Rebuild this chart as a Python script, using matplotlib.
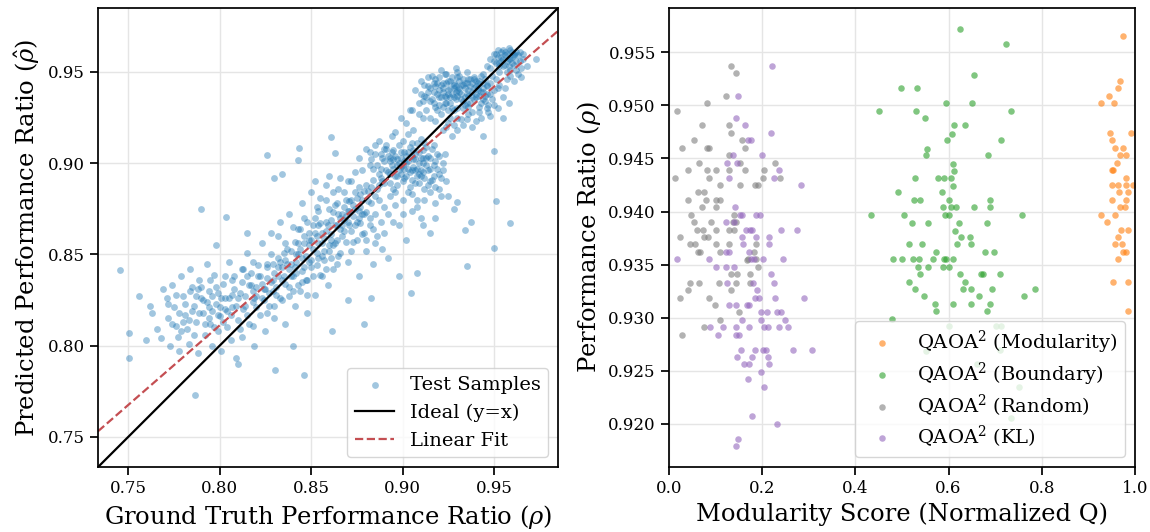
import matplotlib
matplotlib.use("Agg")
import matplotlib.pyplot as plt
import numpy as np

plt.rcParams['font.family'] = ['DejaVu Serif']
plt.rcParams['mathtext.fontset'] = 'dejavuserif'

# ---- left panel: predicted vs ground truth ----
lower_tail = [(0.762,0.822),(0.763,0.818),(0.766,0.809),(0.768,0.804),(0.769,0.831),(0.771,0.826),
              (0.772,0.815),(0.773,0.800),(0.774,0.833),(0.775,0.821),(0.776,0.811),(0.777,0.805),
              (0.778,0.797),(0.779,0.838),(0.780,0.827),(0.781,0.817),(0.782,0.809),(0.783,0.801),
              (0.784,0.842),(0.785,0.832),(0.786,0.822),(0.787,0.813),(0.788,0.796),(0.789,0.836),
              (0.790,0.826),(0.791,0.818),(0.792,0.806),(0.793,0.845),(0.794,0.830),(0.795,0.812),
              (0.796,0.800),(0.797,0.839),(0.798,0.823),(0.799,0.808),(0.800,0.816),(0.801,0.797),
              (0.802,0.834),(0.803,0.826),(0.804,0.810),(0.805,0.846),(0.806,0.803),(0.807,0.821),
              (0.808,0.838),(0.809,0.793),(0.810,0.814),(0.811,0.829)]
lower_dense = [(0.772,0.823),(0.774,0.812),(0.776,0.828),(0.778,0.818),(0.779,0.808),(0.781,0.823),
               (0.783,0.814),(0.784,0.830),(0.786,0.806),(0.787,0.827),(0.789,0.818),(0.790,0.832),
               (0.792,0.812),(0.793,0.824),(0.795,0.836),(0.796,0.819),(0.797,0.810),(0.799,0.829),
               (0.800,0.821),(0.802,0.813),(0.803,0.838),(0.805,0.826),(0.806,0.817),(0.808,0.831),
               (0.809,0.822),(0.811,0.809),(0.812,0.835),(0.814,0.827),(0.815,0.817),(0.817,0.840),
               (0.818,0.830),(0.820,0.821),(0.821,0.844),(0.823,0.834),(0.824,0.825),(0.826,0.837),
               (0.827,0.829),(0.829,0.845),(0.830,0.822),(0.832,0.838),(0.780,0.813),(0.785,0.819),
               (0.791,0.825),(0.794,0.815),(0.798,0.832),(0.801,0.826),(0.804,0.819),(0.807,0.836),
               (0.810,0.826),(0.813,0.820),(0.816,0.833),(0.819,0.826),(0.822,0.838),(0.825,0.831),
               (0.828,0.835),(0.788,0.831),(0.796,0.827),(0.812,0.842),(0.818,0.811),(0.826,0.818)]
mid_band = [(0.812,0.805),(0.813,0.842),(0.814,0.822),(0.815,0.851),(0.816,0.812),(0.817,0.833),
            (0.818,0.846),(0.819,0.800),(0.820,0.827),(0.821,0.838),(0.822,0.817),(0.823,0.856),
            (0.824,0.831),(0.825,0.808),(0.826,0.843),(0.827,0.822),(0.828,0.850),(0.829,0.836),
            (0.830,0.815),(0.831,0.828),(0.832,0.860),(0.833,0.846),(0.834,0.825),(0.835,0.838),
            (0.836,0.812),(0.837,0.853),(0.838,0.832),(0.839,0.845),(0.840,0.865),(0.841,0.822),
            (0.842,0.840),(0.843,0.856),(0.844,0.830),(0.845,0.848),(0.846,0.870),(0.847,0.836),
            (0.848,0.818),(0.849,0.858),(0.850,0.843),(0.851,0.866),(0.852,0.828),(0.853,0.851),
            (0.854,0.874),(0.855,0.839),(0.856,0.862),(0.857,0.847),(0.858,0.880),(0.859,0.833),
            (0.860,0.855)]
band_085 = [(0.830,0.840),(0.831,0.832),(0.832,0.848),(0.833,0.826),(0.834,0.843),(0.835,0.851),
            (0.836,0.834),(0.837,0.845),(0.838,0.827),(0.839,0.852),(0.840,0.838),(0.841,0.857),
            (0.842,0.846),(0.843,0.833),(0.844,0.853),(0.845,0.841),(0.846,0.860),(0.847,0.849),
            (0.848,0.836),(0.849,0.855),(0.850,0.847),(0.851,0.838),(0.852,0.862),(0.853,0.844),
            (0.854,0.856),(0.855,0.867),(0.856,0.849),(0.857,0.859),(0.858,0.842),(0.859,0.866),
            (0.860,0.852),(0.861,0.861),(0.862,0.873),(0.863,0.856),(0.864,0.866),(0.865,0.849),
            (0.866,0.870),(0.867,0.860),(0.868,0.876),(0.869,0.857),(0.870,0.868),(0.871,0.879),
            (0.872,0.863),(0.873,0.871),(0.874,0.884),(0.875,0.858),(0.876,0.874),(0.877,0.867),
            (0.878,0.880),(0.879,0.862),(0.880,0.873),(0.881,0.885),(0.882,0.870),(0.883,0.878),
            (0.884,0.864),(0.885,0.882),(0.836,0.856),(0.840,0.830),(0.844,0.864),(0.848,0.828),
            (0.852,0.870),(0.856,0.838),(0.860,0.875),(0.864,0.845),(0.868,0.884),(0.872,0.852),
            (0.876,0.887),(0.880,0.858),(0.842,0.850),(0.846,0.843),(0.850,0.858),(0.854,0.848),
            (0.858,0.863),(0.862,0.855),(0.866,0.864),(0.870,0.874),(0.874,0.866),(0.878,0.872),
            (0.834,0.836),(0.838,0.842),(0.838,0.872),(0.845,0.878),(0.850,0.884),(0.853,0.876),
            (0.858,0.888),(0.862,0.884),(0.866,0.892),(0.848,0.868),(0.855,0.881),(0.843,0.864),
            (0.870,0.890),(0.874,0.895),(0.860,0.893),(0.828,0.862),(0.833,0.868),(0.852,0.890)]
band_extra = [(0.832,0.843),(0.836,0.847),(0.839,0.838),(0.843,0.850),(0.846,0.856),(0.849,0.846),
              (0.851,0.853),(0.853,0.860),(0.856,0.856),(0.858,0.868),(0.861,0.858),(0.863,0.866),
              (0.865,0.872),(0.867,0.866),(0.869,0.871),(0.871,0.874),(0.873,0.877),(0.875,0.881),
              (0.877,0.876),(0.879,0.885),(0.841,0.843),(0.845,0.835),(0.849,0.862),(0.854,0.866),
              (0.857,0.852),(0.861,0.848),(0.864,0.878),(0.868,0.869),(0.872,0.880),(0.876,0.870),
              (0.820,0.832),(0.823,0.826),(0.826,0.845),(0.829,0.830),(0.815,0.838),(0.818,0.824),
              (0.807,0.828),(0.803,0.820),(0.799,0.817),(0.794,0.821)]
upper_band = [(0.861,0.869),(0.862,0.842),(0.863,0.877),(0.864,0.858),(0.865,0.886),(0.866,0.851),
              (0.867,0.872),(0.868,0.863),(0.869,0.880),(0.870,0.846),(0.871,0.866),(0.872,0.890),
              (0.873,0.857),(0.874,0.875),(0.875,0.868),(0.876,0.838),(0.877,0.883),(0.878,0.861),
              (0.879,0.872),(0.880,0.852),(0.881,0.879),(0.882,0.866),(0.883,0.887),(0.884,0.845),
              (0.885,0.872),(0.886,0.860),(0.887,0.880),(0.888,0.868),(0.889,0.853),(0.890,0.876),
              (0.892,0.872),(0.898,0.866),(0.905,0.874),(0.902,0.858),(0.910,0.870),(0.915,0.862),
              (0.908,0.880),(0.896,0.877),(0.905,0.883),(0.912,0.880),(0.918,0.878),(0.915,0.884),
              (0.920,0.886),(0.908,0.876),(0.900,0.872),(0.911,0.866),(0.918,0.870),(0.925,0.882),
              (0.928,0.875),(0.895,0.868),(0.890,0.862),(0.885,0.856)]
cluster_090 = [(0.876,0.903),(0.878,0.896),(0.880,0.908),(0.882,0.899),(0.884,0.891),(0.885,0.905),
               (0.887,0.912),(0.888,0.897),(0.889,0.903),(0.890,0.889),(0.891,0.908),(0.892,0.895),
               (0.893,0.901),(0.894,0.915),(0.895,0.886),(0.896,0.904),(0.897,0.893),(0.898,0.910),
               (0.899,0.898),(0.900,0.890),(0.901,0.906),(0.902,0.900),(0.903,0.884),(0.904,0.895),
               (0.905,0.911),(0.906,0.902),(0.907,0.889),(0.908,0.897),(0.909,0.906),(0.910,0.893),
               (0.911,0.900),(0.912,0.886),(0.913,0.909),(0.914,0.896),(0.915,0.903),(0.916,0.891),
               (0.917,0.899),(0.918,0.887),(0.919,0.905),(0.920,0.894),(0.921,0.882),(0.922,0.900),
               (0.924,0.890),(0.896,0.917),(0.903,0.916),(0.893,0.882),(0.900,0.880),(0.910,0.913),
               (0.886,0.886),(0.880,0.888),(0.902,0.922),(0.906,0.918),(0.899,0.925),(0.904,0.929)]
core_090 = [(0.886,0.899),(0.887,0.894),(0.888,0.905),(0.889,0.890),(0.890,0.901),(0.891,0.896),
            (0.892,0.904),(0.893,0.889),(0.894,0.899),(0.895,0.907),(0.896,0.893),(0.897,0.902),
            (0.898,0.896),(0.899,0.906),(0.900,0.899),(0.901,0.892),(0.902,0.904),(0.903,0.897),
            (0.904,0.909),(0.905,0.891),(0.906,0.898),(0.907,0.905),(0.908,0.893),(0.909,0.900),
            (0.910,0.896),(0.911,0.907),(0.912,0.892),(0.913,0.899),(0.914,0.904),(0.915,0.897),
            (0.916,0.908),(0.917,0.893),(0.918,0.901),(0.891,0.910),(0.893,0.894),(0.895,0.902),
            (0.897,0.888),(0.899,0.894),(0.901,0.901),(0.903,0.906),(0.905,0.896),(0.907,0.902),
            (0.909,0.889),(0.911,0.895),(0.913,0.903),(0.915,0.890),(0.888,0.892),(0.890,0.908),
            (0.894,0.906),(0.898,0.900),(0.902,0.893),(0.906,0.907),(0.910,0.903),(0.914,0.888),
            (0.919,0.897),(0.920,0.904),(0.921,0.892),(0.883,0.902),(0.884,0.897),(0.885,0.910),
            (0.887,0.888),(0.900,0.912),(0.908,0.911),(0.912,0.911),(0.896,0.884),(0.904,0.887),
            (0.922,0.896),(0.923,0.905),(0.917,0.910),(0.882,0.906),(0.895,0.897),(0.899,0.903),
            (0.903,0.901),(0.907,0.896),(0.901,0.897),(0.905,0.904),(0.909,0.894),(0.897,0.899),
            (0.893,0.903),(0.911,0.903)]
cluster_093 = [(0.907,0.940),(0.909,0.933),(0.910,0.945),(0.912,0.937),(0.913,0.929),(0.914,0.942),
               (0.915,0.934),(0.916,0.948),(0.917,0.939),(0.918,0.931),(0.919,0.944),(0.920,0.936),
               (0.921,0.927),(0.922,0.941),(0.923,0.949),(0.924,0.933),(0.925,0.938),(0.926,0.945),
               (0.927,0.930),(0.928,0.941),(0.929,0.935),(0.930,0.947),(0.931,0.939),(0.932,0.924),
               (0.933,0.943),(0.934,0.932),(0.935,0.950),(0.936,0.937),(0.937,0.942),(0.938,0.928),
               (0.939,0.946),(0.940,0.936),(0.941,0.941),(0.942,0.931),(0.943,0.948),(0.944,0.939),
               (0.945,0.934),(0.946,0.943),(0.947,0.928),(0.948,0.938),(0.950,0.932),(0.952,0.941),
               (0.955,0.936),(0.958,0.933),(0.918,0.923),(0.924,0.920),(0.930,0.918),(0.927,0.915),
               (0.921,0.951),(0.929,0.952),(0.914,0.947),(0.911,0.925),(0.926,0.925),(0.933,0.921),
               (0.940,0.923),(0.905,0.929),(0.925,0.922),(0.930,0.925),(0.935,0.924),(0.938,0.920),
               (0.922,0.918),(0.928,0.921),(0.943,0.925),(0.946,0.930),(0.948,0.926),(0.952,0.930),
               (0.956,0.941),(0.915,0.925),(0.909,0.927)]
core_093 = [(0.913,0.936),(0.915,0.941),(0.917,0.933),(0.918,0.946),(0.919,0.938),(0.921,0.943),
            (0.922,0.931),(0.923,0.937),(0.924,0.944),(0.925,0.940),(0.926,0.933),(0.927,0.947),
            (0.928,0.936),(0.929,0.942),(0.930,0.930),(0.931,0.945),(0.932,0.938),(0.933,0.934),
            (0.934,0.941),(0.935,0.944),(0.936,0.931),(0.937,0.946),(0.938,0.939),(0.939,0.935),
            (0.940,0.942),(0.941,0.944),(0.942,0.937),(0.943,0.933),(0.944,0.941),(0.945,0.946),
            (0.946,0.938),(0.947,0.932),(0.914,0.939),(0.916,0.935),(0.918,0.942),(0.920,0.947),
            (0.922,0.939),(0.924,0.936),(0.926,0.941),(0.928,0.944),(0.930,0.937),(0.932,0.943),
            (0.934,0.936),(0.936,0.940),(0.938,0.944),(0.940,0.938),(0.942,0.945),(0.944,0.935),
            (0.946,0.942),(0.920,0.940),(0.925,0.945),(0.929,0.939),(0.933,0.946),(0.937,0.933),
            (0.941,0.940),(0.945,0.937),(0.917,0.944),(0.923,0.933),(0.931,0.941),(0.935,0.938),
            (0.939,0.947),(0.943,0.939),(0.927,0.938),(0.921,0.936),(0.933,0.930),(0.948,0.944),
            (0.950,0.940),(0.951,0.946),(0.953,0.943),(0.910,0.938),(0.911,0.934),(0.919,0.929),
            (0.928,0.929),(0.936,0.927),(0.942,0.928),(0.949,0.935),(0.944,0.949),(0.930,0.950),
            (0.924,0.949),(0.912,0.943),(0.926,0.936),(0.930,0.940),(0.934,0.944),(0.938,0.936),
            (0.932,0.935),(0.928,0.943),(0.936,0.946),(0.922,0.944),(0.940,0.945),(0.944,0.944),
            (0.920,0.932),(0.925,0.929),(0.935,0.933),(0.939,0.941),(0.931,0.948)]
cluster_095 = [(0.946,0.953),(0.948,0.957),(0.950,0.960),(0.951,0.955),(0.952,0.962),(0.953,0.950),
               (0.954,0.958),(0.955,0.953),(0.956,0.961),(0.957,0.956),(0.958,0.963),(0.959,0.951),
               (0.960,0.958),(0.961,0.954),(0.962,0.961),(0.963,0.949),(0.964,0.956),(0.965,0.952),
               (0.949,0.948),(0.957,0.946),(0.961,0.945),(0.966,0.960),(0.968,0.953),(0.973,0.957),
               (0.950,0.956),(0.952,0.958),(0.953,0.955),(0.954,0.961),(0.955,0.957),(0.956,0.954),
               (0.957,0.960),(0.958,0.957),(0.959,0.962),(0.960,0.955),(0.961,0.959),(0.962,0.956),
               (0.963,0.959),(0.951,0.960),(0.955,0.962),(0.958,0.953),(0.960,0.961),(0.964,0.961),
               (0.948,0.952),(0.953,0.953),(0.962,0.951),(0.966,0.957),(0.957,0.950),(0.959,0.948),
               (0.965,0.947),(0.956,0.959),(0.959,0.957),(0.954,0.956),(0.961,0.960)]
outliers = [(0.7455,0.8412),(0.7559,0.827),(0.7502,0.8069),(0.7506,0.7931),(0.760,0.803),
            (0.7865,0.7728),(0.8305,0.7869),(0.8461,0.7841),(0.8617,0.8078),(0.9354,0.8434),
            (0.9047,0.8288),(0.9078,0.8398),(0.879,0.812),(0.883,0.826),(0.7896,0.8751),
            (0.8035,0.8704),(0.826,0.9045),(0.830,0.892),(0.834,0.894),(0.8434,0.9082),
            (0.843,0.9018),(0.861,0.9145),(0.863,0.9055),(0.950,0.9064),(0.951,0.8795),
            (0.959,0.8673),(0.950,0.8536),(0.934,0.8636),(0.9297,0.8786),(0.9375,0.868),
            (0.944,0.915),(0.955,0.925),(0.892,0.848),(0.898,0.838),(0.815,0.862),
            (0.798,0.855),(0.810,0.790),(0.840,0.800),(0.870,0.825)]

fit_slope = 0.872
fit_intercept = 0.1135
axis_lims = (0.7335, 0.985)

# ---- right panel: performance vs modularity ----
modularity_pts = [(0.975,0.9565),(0.968,0.9523),(0.963,0.9516),(0.945,0.9509),(0.927,0.9502),
                  (0.956,0.9502),(0.9465,0.9474),(0.951,0.9467),(0.992,0.9474),(0.958,0.9460),
                  (0.975,0.9460),(0.969,0.9453),(0.980,0.9453),(0.962,0.9446),(0.951,0.9439),
                  (0.954,0.9439),(0.980,0.9432),(0.951,0.9425),(0.963,0.9425),(0.980,0.9425),
                  (0.996,0.9425),(0.966,0.9418),(0.986,0.9418),(0.951,0.9411),(0.980,0.9411),
                  (0.967,0.9404),(0.978,0.9404),(0.927,0.9397),(0.958,0.9397),(0.939,0.9390),
                  (0.970,0.9383),(0.986,0.9383),(0.963,0.9376),(0.957,0.9369),(0.972,0.9369),
                  (0.975,0.9362),(0.980,0.9362),(0.963,0.9355),(0.952,0.9334),(0.986,0.9334),
                  (0.986,0.9306)]
boundary_pts = [(0.625,0.9572),(0.7225,0.9558),(0.654,0.9529),(0.4975,0.9516),(0.533,0.9516),
                (0.595,0.9502),(0.650,0.9502),(0.450,0.9495),(0.530,0.9495),(0.734,0.9495),
                (0.549,0.9488),(0.611,0.9481),(0.636,0.9481),(0.607,0.9473),(0.597,0.9467),
                (0.712,0.9467),(0.554,0.9459),(0.551,0.9453),(0.684,0.9453),(0.609,0.9445),
                (0.612,0.9438),(0.527,0.9432),(0.577,0.9432),(0.591,0.9432),(0.606,0.9432),
                (0.609,0.9424),(0.491,0.9418),(0.585,0.9418),(0.525,0.9411),(0.538,0.9411),
                (0.601,0.9411),(0.690,0.9411),(0.588,0.9404),(0.606,0.9404),(0.615,0.9404),
                (0.654,0.9404),(0.690,0.9404),(0.434,0.9397),(0.505,0.9397),(0.592,0.9397),
                (0.601,0.9397),(0.757,0.9397),(0.521,0.9389),(0.555,0.9389),(0.623,0.9389),
                (0.683,0.9389),(0.614,0.9382),(0.626,0.9376),(0.646,0.9376),(0.515,0.9369),
                (0.543,0.9369),(0.618,0.9369),(0.649,0.9369),(0.573,0.9362),(0.678,0.9362),
                (0.698,0.9362),(0.480,0.9355),(0.500,0.9355),(0.524,0.9355),(0.537,0.9355),
                (0.567,0.9355),(0.591,0.9355),(0.594,0.9355),(0.609,0.9355),(0.535,0.9348),
                (0.556,0.9348),(0.588,0.9348),(0.601,0.9348),(0.539,0.9341),(0.625,0.9341),
                (0.669,0.9341),(0.673,0.9341),(0.710,0.9341),(0.515,0.9334),(0.636,0.9334),
                (0.528,0.9327),(0.632,0.9327),(0.649,0.9327),(0.694,0.9327),(0.786,0.9327),
                (0.548,0.9320),(0.665,0.9320),(0.763,0.9320),(0.572,0.9313),(0.610,0.9313),
                (0.649,0.9313),(0.690,0.9313),(0.574,0.9306),(0.683,0.9306),(0.478,0.9299),
                (0.600,0.9292),(0.702,0.9292),(0.713,0.9292),(0.552,0.9269),(0.661,0.9256),
                (0.710,0.9270),(0.752,0.9235),(0.733,0.9206)]
random_pts = [(0.1325,0.9537),(0.144,0.9530),(0.123,0.9509),(0.0825,0.9502),(0.018,0.9495),
              (0.070,0.9481),(0.1286,0.9481),(0.133,0.9474),(0.054,0.9467),(0.156,0.9467),
              (0.029,0.9460),(0.081,0.9460),(0.0865,0.9460),(0.163,0.9460),(0.064,0.9446),
              (0.1286,0.9453),(0.152,0.9446),(0.228,0.9446),(0.041,0.9439),(0.081,0.9439),
              (0.100,0.9439),(0.1286,0.9439),(0.1635,0.9439),(0.205,0.9439),(0.087,0.9432),
              (0.202,0.9432),(0.238,0.9432),(0.012,0.9432),(0.109,0.9425),(0.152,0.9425),
              (0.185,0.9425),(0.192,0.9425),(0.063,0.9418),(0.076,0.9418),(0.041,0.9411),
              (0.079,0.9411),(0.102,0.9411),(0.109,0.9411),(0.0706,0.9404),(0.100,0.9404),
              (0.048,0.9397),(0.140,0.9397),(0.054,0.9390),(0.091,0.9390),(0.137,0.9390),
              (0.1437,0.9390),(0.0595,0.9383),(0.072,0.9383),(0.100,0.9383),(0.1286,0.9383),
              (0.139,0.9383),(0.024,0.9376),(0.075,0.9376),(0.083,0.9376),(0.045,0.9369),
              (0.056,0.9369),(0.100,0.9369),(0.1286,0.9369),(0.186,0.9369),(0.062,0.9362),
              (0.067,0.9362),(0.109,0.9362),(0.1825,0.9362),(0.169,0.9355),(0.1865,0.9355),
              (0.192,0.9348),(0.1665,0.9354),(0.134,0.9341),(0.146,0.9341),(0.174,0.9341),
              (0.046,0.9333),(0.064,0.9333),(0.1075,0.9333),(0.144,0.9333),(0.174,0.9333),
              (0.041,0.9326),(0.134,0.9326),(0.023,0.9319),(0.085,0.9319),(0.0996,0.9312),
              (0.1495,0.9305),(0.110,0.9298),(0.075,0.9291),(0.0285,0.9284)]
kl_pts = [(0.2206,0.9537),(0.149,0.9509),(0.143,0.9488),(0.164,0.9481),(0.170,0.9467),
          (0.176,0.9467),(0.219,0.9474),(0.138,0.9453),(0.200,0.9453),(0.125,0.9446),
          (0.147,0.9446),(0.2365,0.9439),(0.1286,0.9432),(0.226,0.9432),(0.284,0.9425),
          (0.142,0.9404),(0.152,0.9397),(0.156,0.9397),(0.1865,0.9397),(0.195,0.9397),
          (0.122,0.9390),(0.140,0.9390),(0.165,0.9383),(0.173,0.9383),(0.179,0.9383),
          (0.240,0.9383),(0.274,0.9383),(0.156,0.9376),(0.1865,0.9376),(0.215,0.9376),
          (0.158,0.9369),(0.214,0.9369),(0.122,0.9362),(0.1286,0.9362),(0.172,0.9362),
          (0.017,0.9355),(0.087,0.9355),(0.176,0.9355),(0.182,0.9355),(0.201,0.9355),
          (0.244,0.9355),(0.100,0.9348),(0.122,0.9348),(0.140,0.9348),(0.219,0.9341),
          (0.124,0.9333),(0.181,0.9333),(0.226,0.9333),(0.190,0.9326),(0.184,0.9319),
          (0.194,0.9319),(0.227,0.9319),(0.290,0.9319),(0.128,0.9312),(0.1445,0.9312),
          (0.1665,0.9312),(0.172,0.9312),(0.198,0.9305),(0.210,0.9305),(0.231,0.9305),
          (0.2406,0.9305),(0.157,0.9298),(0.197,0.9298),(0.248,0.9298),(0.0875,0.9291),
          (0.115,0.9291),(0.1445,0.9291),(0.172,0.9291),(0.205,0.9291),(0.2135,0.9291),
          (0.2356,0.9291),(0.256,0.9291),(0.105,0.9284),(0.1445,0.9284),(0.1495,0.9284),
          (0.155,0.9270),(0.185,0.9270),(0.201,0.9270),(0.208,0.9270),(0.266,0.9270),
          (0.308,0.9270),(0.146,0.9263),(0.179,0.9263),(0.2135,0.9263),(0.162,0.9256),
          (0.172,0.9256),(0.2157,0.9256),(0.198,0.9249),(0.169,0.9242),(0.203,0.9235),
          (0.1786,0.9207),(0.232,0.9200),(0.149,0.9186),(0.1445,0.9179)]


def style_axes(ax):
    ax.grid(True, color='#e5e5e5', linewidth=1.0)
    ax.set_axisbelow(True)
    for sp in ax.spines.values():
        sp.set_color('black')
        sp.set_linewidth(1.25)
    ax.tick_params(direction='out', length=6, width=1.25, labelsize=12)


fig = plt.figure(figsize=(11.5, 5.32), dpi=100)
ax1 = fig.add_axes([0.0852, 0.122, 0.4, 0.863])
ax2 = fig.add_axes([0.5817, 0.122, 0.4052, 0.863])

# left panel
samples = np.array(lower_tail + lower_dense + mid_band + band_085 + band_extra + upper_band
                   + cluster_090 + core_090 + cluster_093 + core_093 + cluster_095 + outliers)
ax1.scatter(samples[:, 0], samples[:, 1], s=24, color='#1f77b4', alpha=0.42,
            linewidths=0, label='Test Samples')
lims = np.array(axis_lims)
ax1.plot(lims, lims, color='black', linewidth=1.6, label='Ideal (y=x)')
ax1.plot(lims, fit_slope * lims + fit_intercept, color='#c44e52', linestyle='--',
         linewidth=1.6, label='Linear Fit')
ax1.set_xlim(lims)
ax1.set_ylim(lims)
ax1.set_xticks([0.75, 0.80, 0.85, 0.90, 0.95])
ax1.set_yticks([0.75, 0.80, 0.85, 0.90, 0.95])
ax1.set_xlabel(r'Ground Truth Performance Ratio ($\rho$)', fontsize=17.5)
ax1.set_ylabel(r'Predicted Performance Ratio ($\hat{\rho}$)', fontsize=17.5)
style_axes(ax1)
ax1.legend(loc='lower right', fontsize=14)

# right panel
series = [(modularity_pts, '#ff7f0e', r'QAOA$^2$ (Modularity)'),
          (boundary_pts, '#2ca02c', r'QAOA$^2$ (Boundary)'),
          (random_pts, '#7f7f7f', r'QAOA$^2$ (Random)'),
          (kl_pts, '#9467bd', r'QAOA$^2$ (KL)')]
for pts, col, lab in series:
    arr = np.array(pts)
    ax2.scatter(arr[:, 0], arr[:, 1], s=22, color=col, alpha=0.6, linewidths=0, label=lab)
ax2.set_xlim(0, 1)
ax2.set_xticks([0.0, 0.2, 0.4, 0.6, 0.8, 1.0])
ax2.set_yticks(np.arange(0.920, 0.9551, 0.005))
ax2.yaxis.set_major_formatter(matplotlib.ticker.FormatStrFormatter('%.3f'))
ax2.set_xlabel('Modularity Score (Normalized Q)', fontsize=17.5)
ax2.set_ylabel(r'Performance Ratio ($\rho$)', fontsize=17.5)
style_axes(ax2)
ax2.legend(loc='lower right', fontsize=14, labelspacing=0.25)

fig.savefig('out.png', dpi=100)
